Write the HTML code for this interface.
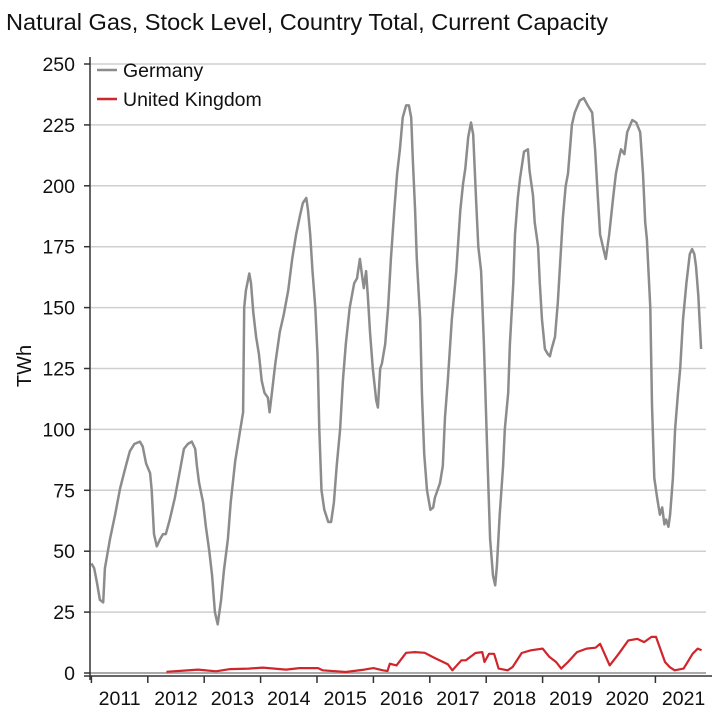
<!DOCTYPE html>
<html><head><meta charset="utf-8"><style>
body{margin:0;background:#fff;}
svg text{font-family:"Liberation Sans",Arial,sans-serif;fill:#111;}
</style></head><body>
<svg id="chart" width="716" height="714" xmlns="http://www.w3.org/2000/svg">
<text x="6" y="30" font-size="23" textLength="602" lengthAdjust="spacingAndGlyphs">Natural Gas, Stock Level, Country Total, Current Capacity</text>
<g id="grid"></g><g id="yaxis"></g><g id="xaxis"></g><g id="series"></g>
<text transform="translate(31,366) rotate(-90)" font-size="20" text-anchor="middle">TWh</text>
<g>
<line x1="97" y1="70" x2="117" y2="70" stroke="#8c8c8c" stroke-width="2.5"/>
<text x="123" y="77" font-size="19.5">Germany</text>
<line x1="97" y1="99" x2="117" y2="99" stroke="#d0252b" stroke-width="2.5"/>
<text x="123" y="106" font-size="19.5">United Kingdom</text>
</g>
</svg>
<script>
const yTicks=[0,25,50,75,100,125,150,175,200,225,250];
const years=[2011,2012,2013,2014,2015,2016,2017,2018,2019,2020,2021];
const deDates=[0.0,0.05,0.10,0.15,0.21,0.24,0.33,0.42,0.51,0.60,0.68,0.76,0.86,0.91,0.97,1.04,1.07,1.11,1.16,1.22,1.27,1.32,1.39,1.48,1.57,1.64,1.71,1.78,1.84,1.87,1.91,1.98,2.03,2.09,2.14,2.19,2.24,2.30,2.35,2.42,2.47,2.55,2.64,2.69,2.71,2.74,2.80,2.83,2.87,2.92,2.97,3.02,3.07,3.13,3.16,3.20,3.26,3.34,3.41,3.49,3.56,3.63,3.70,3.75,3.81,3.84,3.88,3.92,3.97,4.01,4.04,4.08,4.13,4.20,4.25,4.30,4.35,4.41,4.46,4.51,4.58,4.66,4.71,4.76,4.80,4.83,4.87,4.90,4.94,4.99,5.05,5.08,5.12,5.15,5.21,5.26,5.31,5.37,5.42,5.47,5.52,5.58,5.63,5.67,5.70,5.74,5.77,5.83,5.86,5.90,5.95,6.01,6.06,6.09,6.18,6.23,6.27,6.32,6.39,6.47,6.54,6.59,6.63,6.68,6.73,6.77,6.82,6.86,6.91,6.96,7.02,7.07,7.12,7.16,7.19,7.24,7.30,7.33,7.39,7.42,7.48,7.51,7.56,7.60,7.67,7.74,7.77,7.83,7.86,7.92,7.95,7.99,8.04,8.09,8.13,8.16,8.22,8.27,8.31,8.36,8.41,8.45,8.52,8.57,8.66,8.73,8.80,8.88,8.93,8.98,9.02,9.07,9.12,9.18,9.25,9.30,9.36,9.39,9.45,9.50,9.59,9.66,9.73,9.78,9.82,9.85,9.91,9.94,9.98,10.03,10.08,10.12,10.16,10.19,10.23,10.26,10.31,10.35,10.40,10.44,10.49,10.55,10.61,10.65,10.69,10.72,10.76,10.81];
const deValues=[45,43,37,30,29,43,55,65,76,84,91,94,95,93,86,82,75,57,52,55,57,57,63,72,83,92,94,95,92,85,78,70,60,50,40,25,20,30,42,55,70,87,100,107,150,157,164,160,148,138,131,120,115,113,107,115,127,140,147,157,170,180,188,193,195,190,180,165,150,130,100,75,67,62,62,70,85,100,120,135,150,160,162,170,163,158,165,155,140,125,112,109,125,127,135,150,170,190,205,215,228,233,233,228,210,190,170,145,115,90,75,67,68,72,78,85,105,120,145,165,190,201,207,220,226,221,195,175,165,135,90,55,40,36,44,65,85,100,115,135,160,180,195,203,214,215,206,196,185,175,160,145,133,131,130,133,138,152,168,187,200,205,225,230,235,236,233,230,215,195,180,175,170,180,195,205,212,215,213,222,227,226,222,205,185,178,150,110,80,72,65,68,61,63,60,65,80,100,115,125,145,160,172,174,172,167,155,133];
const ukDates=[1.33,1.64,1.89,2.21,2.46,2.79,3.04,3.45,3.69,4.02,4.10,4.51,4.84,5.00,5.17,5.25,5.29,5.41,5.58,5.74,5.91,6.03,6.11,6.32,6.40,6.56,6.64,6.81,6.93,6.97,7.05,7.14,7.22,7.38,7.47,7.63,7.79,8.00,8.12,8.24,8.33,8.45,8.61,8.78,8.94,9.02,9.19,9.35,9.52,9.68,9.80,9.93,10.01,10.17,10.25,10.34,10.50,10.66,10.75,10.82];
const ukValues=[0.5,1,1.4,0.7,1.6,1.8,2.2,1.4,2,2,1.1,0.4,1.4,2,1.1,0.8,3.8,3.1,8.3,8.6,8.3,6.8,5.9,3.6,1.1,5.2,5.2,8.2,8.6,4.5,7.9,7.9,1.8,1.1,2.5,8.2,9.3,10,6.6,4.5,1.8,4.5,8.6,10,10.4,12,3.1,7.9,13.4,14,12.7,14.8,14.8,4.5,2.5,1.1,1.8,7.9,10,9.3];
const NS='http://www.w3.org/2000/svg';
const X0=91.4, PX_PER_YEAR=56.4, Y0=673, PX_PER_UNIT=2.436;
const xs=t=>X0+t*PX_PER_YEAR;
const ys=v=>Y0-v*PX_PER_UNIT;
function mk(tag,attrs,parent){const e=document.createElementNS(NS,tag);for(const k in attrs)e.setAttribute(k,attrs[k]);parent.appendChild(e);return e;}
const grid=document.getElementById('grid'),ya=document.getElementById('yaxis'),xa=document.getElementById('xaxis'),ser=document.getElementById('series');
yTicks.forEach(v=>{
  const g=mk('line',{x1:90,x2:706,y1:ys(v),y2:ys(v),stroke:v===0?'#aaa':'#cfcfcf','stroke-width':v===0?2:1.5},grid);
  
  
  const t=mk('line',{x1:84,x2:90,y1:ys(v),y2:ys(v),stroke:'#333','stroke-width':1.5},ya);
  
  
  const l=mk('text',{x:75,y:ys(v)+7,'font-size':19.5,'text-anchor':'end'},ya);
  l.textContent=v;
  
  
});
const axl=mk('line',{x1:90,x2:90,y1:57,y2:680,stroke:'#333','stroke-width':1.5},ya);


const bxl=mk('line',{x1:84,x2:712,y1:676,y2:676,stroke:'#333','stroke-width':1.5},xa);


years.forEach((yr,i)=>{
  const tk=mk('line',{x1:xs(i),x2:xs(i),y1:676,y2:683,stroke:'#333','stroke-width':1.5},xa);
  
  
  const l=mk('text',{x:xs(i+0.5),y:705,'font-size':19.5,'text-anchor':'middle'},xa);
  l.textContent=yr;
  
  
});
function path(d,v){return d.map((t,i)=>(i?'L':'M')+xs(t).toFixed(1)+','+ys(v[i]).toFixed(1)).join('');}
const de=mk('path',{d:path(deDates,deValues),fill:'none',stroke:'#8c8c8c','stroke-width':2.5,'stroke-linejoin':'round'},ser);


const uk=mk('path',{d:path(ukDates,ukValues),fill:'none',stroke:'#d0252b','stroke-width':2.2,'stroke-linejoin':'round'},ser);


</script>
</body></html>
